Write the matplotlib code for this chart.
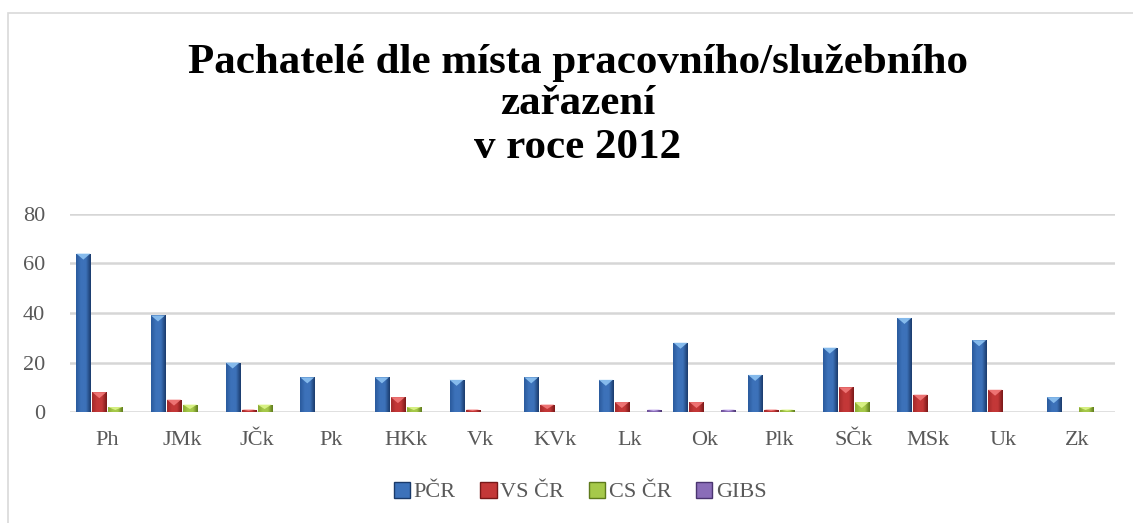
import numpy as np
import matplotlib
matplotlib.use('Agg')
import matplotlib.pyplot as plt
from matplotlib.colors import LinearSegmentedColormap
from matplotlib.patches import Rectangle, Polygon, Patch

categories = ['Ph', 'JMk', 'JČk', 'Pk', 'HKk', 'Vk', 'KVk', 'Lk', 'Ok', 'Plk', 'SČk', 'MSk', 'Uk', 'Zk']
pcr = [64, 39, 20, 14, 14, 13, 14, 13, 28, 15, 26, 38, 29, 6]
vs_cr = [8, 5, 1, 0, 6, 1, 3, 4, 4, 1, 10, 7, 9, 0]
cs_cr = [2, 3, 3, 0, 2, 0, 0, 0, 0, 1, 4, 0, 0, 2]
gibs = [0, 0, 0, 0, 0, 0, 0, 1, 1, 0, 0, 0, 0, 0]
series_names = ['PČR', 'VS ČR', 'CS ČR', 'GIBS']
yticks = [0, 20, 40, 60, 80]

# (left edge, middle, right edge, top triangle)
palette = [
    ('#2A5A9C', '#3D72BA', '#1A3A6A', '#8EC3F2'),
    ('#A42A2A', '#C43838', '#781818', '#F27A7A'),
    ('#8AAA32', '#A6C94A', '#5E7A1C', '#DDF58A'),
    ('#6B4E96', '#8A6DB8', '#4A3470', '#C8B2EE'),
]

plt.rcParams['font.family'] = ['Liberation Serif', 'DejaVu Serif']

W, H = 1133, 523
fig = plt.figure(figsize=(W / 100, H / 100), dpi=100)
ax = fig.add_axes([70 / W, 1 - 412 / H, (1115 - 70) / W, (412 - 214) / H])

x = np.arange(len(categories))
step = 0.214
width = 0.188
px_per_unit = (412 - 214) / 80.0

all_series = [pcr, vs_cr, cs_cr, gibs]
for i, vals in enumerate(all_series):
    c_left, c_mid, c_right, c_top = palette[i]
    cmap = LinearSegmentedColormap.from_list('g%d' % i, [c_left, c_mid, c_mid, c_right])
    grad = np.linspace(0, 1, 64).reshape(1, -1)
    xs = x + (i - 1.5) * step
    bars = ax.bar(xs, vals, width=width, color=c_mid, edgecolor='none', zorder=3)
    for b, v in zip(bars, vals):
        if v <= 0:
            continue
        x0 = b.get_x()
        im = ax.imshow(grad, cmap=cmap, aspect='auto', extent=(x0, x0 + width, 0, v),
                       zorder=3.1, interpolation='bicubic')
        im.set_clip_path(b)
        th = min(6 / px_per_unit, v * 0.6)
        tri = Polygon([(x0, v), (x0 + width, v), (x0 + width / 2, v - th)],
                      closed=True, facecolor=c_top, edgecolor='none', zorder=3.2, alpha=0.9)
        ax.add_patch(tri)

ax.set_xlim(-0.5, len(categories) - 0.5)
ax.set_ylim(0, 80)
ax.set_yticks(yticks)
ax.set_xticks(x)
ax.set_xticklabels(categories)
ax.grid(axis='y', color='#D6D6D6', linewidth=1.8, zorder=0)
ax.set_axisbelow(True)
for s in ax.spines.values():
    s.set_visible(False)
ax.tick_params(axis='both', length=0, labelsize=16, colors='#595959')
ax.tick_params(axis='y', pad=18)
ax.tick_params(axis='x', pad=14)
ax.patch.set_alpha(0)

title_lines = ['Pachatelé dle místa pracovního/služebního', 'zařazení', 'v roce 2012']
baselines = [73, 114, 158]
for line, yb in zip(title_lines, baselines):
    fig.text(578 / W, 1 - yb / H, line, ha='center', va='baseline',
             fontsize=31, fontweight='bold', color='black')

handles = [Patch(facecolor=palette[i][1], edgecolor=palette[i][2], label=series_names[i])
           for i in range(4)]
fig.legend(handles=handles, loc='center', bbox_to_anchor=(580 / W, 1 - 492 / H), ncol=4,
           frameon=False, fontsize=16, handlelength=0.75, handleheight=0.75,
           handletextpad=0.15, columnspacing=1.1, labelcolor='#595959')

fig.add_artist(Rectangle((8 / W, -0.1), 1.2, 1.1 - 13 / H, transform=fig.transFigure,
                         fill=False, edgecolor='#D9D9D9', linewidth=1.2))

fig.savefig('out.png', dpi=100)
